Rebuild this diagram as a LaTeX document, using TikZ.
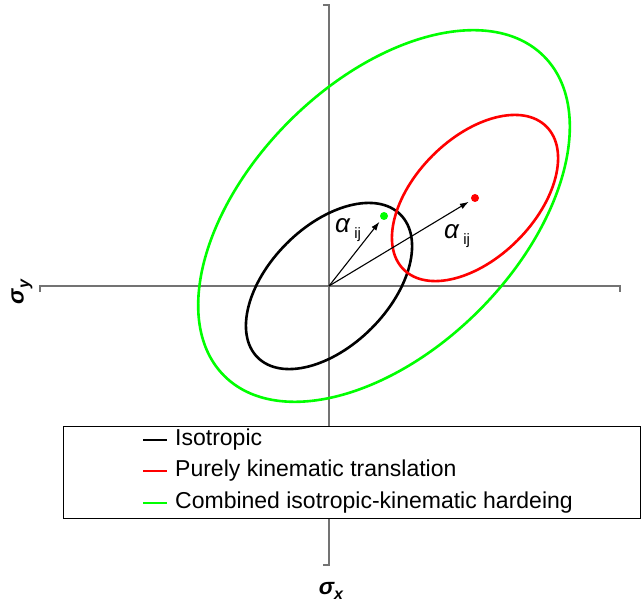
\documentclass[tikz,border=0pt]{standalone}
\usepackage{fontspec}
\setmainfont{Liberation Sans}
\usetikzlibrary{positioning,arrows.meta}

\begin{document}
\begin{tikzpicture}[x=1pt,y=1pt,>={Latex[length=9pt,width=6pt]},
        axis/.style={draw=black!55,line width=1.3pt},
        surf/.style={line width=2.6pt},
        vec/.style={->,line width=1.1pt,shorten >=3pt},
        alab/.style={font=\fontsize{26}{26}\selectfont\itshape,inner sep=0pt},
        slab/.style={font=\fontsize{23}{23}\selectfont\bfseries\itshape,inner sep=0pt},
        legtxt/.style={font=\fontsize{23}{23}\selectfont,anchor=west,inner sep=0pt},
        legline/.style={line width=2.6pt}]
        \useasboundingbox (0,0) rectangle (642,606);
        % axes
        \coordinate (O) at (329,320);
        \coordinate (xa) at (40,320);
        \coordinate (xb) at (620,320);
        \coordinate (ya) at (329,41);
        \coordinate (yb) at (329,601);
        \draw[axis] ([yshift=-6]xa) -- (xa) -- (xb) -- ([yshift=-6]xb);
        \draw[axis] ([xshift=-6]ya) -- (ya) -- (yb) -- ([xshift=-6]yb);
        % yield surfaces
        \coordinate (gc) at (384,390);
        \coordinate (rc) at (475,408);
        \draw[surf,rotate around={45:(O)}] (O) ellipse (101 and 60);
        \draw[surf,red,rotate around={45:(rc)}] (rc) ellipse (101 and 60);
        \draw[surf,green,rotate around={45:(gc)}] (gc) ellipse (226 and 134);
        \node[circle,fill=green,inner sep=0pt,minimum size=8] (gdot) at (gc) {};
        \node[circle,fill=red,inner sep=0pt,minimum size=8] (rdot) at (rc) {};
        \draw[vec] (O) -- (gdot);
        \draw[vec] (O) -- (rdot);
        \node[alab] (a1) at (348,376) {α\,\raisebox{-0.45ex}{\fontsize{15}{15}\selectfont\upshape ij}};
        \node[alab] (a2) at (457,370) {α\,\raisebox{-0.45ex}{\fontsize{15}{15}\selectfont\upshape ij}};
        % axis labels
        \node[slab] (sx) at (331,15) {σ\raisebox{-0.45ex}{\fontsize{16}{16}\selectfont x}};
        \node[slab,rotate=90] (sy) at (22,314) {σ\raisebox{-0.45ex}{\fontsize{16}{16}\selectfont y}};
        % legend
        \node[draw,fill=white,line width=0.9pt,minimum width=577,minimum height=92,anchor=north west] (leg) at (63,180) {};
        \draw[legline] (143,166) -- (167,166);
        \draw[legline,red] (143,135) -- (167,135);
        \draw[legline,green] (143,103) -- (167,103);
        \node[legtxt] (l1) at (175,166) {Isotropic};
        \node[legtxt] (l2) at (175,135) {Purely kinematic translation};
        \node[legtxt] (l3) at (175,103) {Combined isotropic-kinematic hardeing};
    \end{tikzpicture}
\end{document}
